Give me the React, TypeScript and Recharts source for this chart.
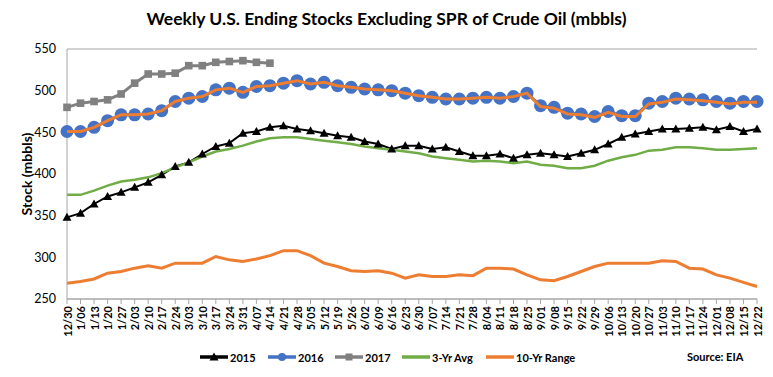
import React from 'react';
import { LineChart, Line, XAxis, YAxis, CartesianGrid } from 'recharts';

const weeks = ['12/30', '1/06', '1/13', '1/20', '1/27', '2/03', '2/10', '2/17', '2/24', '3/03', '3/10', '3/17', '3/24', '3/31', '4/07', '4/14', '4/21', '4/28', '5/05', '5/12', '5/19', '5/26', '6/02', '6/09', '6/16', '6/23', '6/30', '7/07', '7/14', '7/21', '7/28', '8/04', '8/11', '8/18', '8/25', '9/01', '9/08', '9/15', '9/22', '9/29', '10/06', '10/13', '10/20', '10/27', '11/03', '11/10', '11/17', '11/24', '12/01', '12/08', '12/15', '12/22'];

const stocks2015 = [348, 353, 364, 373, 378, 384, 390, 399, 409, 414, 424, 433, 437, 449, 451, 456, 458, 454, 452, 449, 446, 444, 439, 436, 430, 434, 434, 430, 432, 427, 422, 422, 424, 419, 423, 425, 423, 421, 425, 429, 436, 444, 448, 451, 454, 454, 455, 456, 453, 457, 451, 454];

const stocks2016 = [451, 451, 456, 464, 471, 471, 472, 476, 487, 491, 493, 501, 503, 498, 505, 506, 509, 512, 508, 510, 506, 504, 502, 501, 500, 497, 494, 492, 490, 490, 491, 492, 491, 493, 497, 482, 480, 473, 472, 469, 475, 470, 470, 485, 487, 491, 490, 489, 487, 485, 487, 487];

const stocks2017 = [480, 485, 487, 489, 496, 509, 520, 520, 521, 530, 530, 534, 535, 536, 534, 533];

const avg3Yr = [375, 375, 380, 386, 391, 393, 396, 401, 408, 414, 421, 427, 430, 434, 439, 443, 444, 444, 442, 440, 438, 436, 433, 431, 429, 427, 425, 421, 419, 417, 415, 416, 415, 413, 415, 411, 410, 407, 407, 410, 416, 420, 423, 428, 429, 432, 432, 431, 429, 429, 430, 431];

const range10Low = [269, 271, 274, 281, 283, 287, 290, 287, 293, 293, 293, 301, 297, 295, 298, 302, 308, 308, 302, 293, 289, 284, 283, 284, 281, 275, 279, 277, 277, 279, 278, 287, 287, 286, 279, 273, 272, 277, 283, 289, 293, 293, 293, 293, 296, 295, 287, 286, 279, 275, 270, 265];

const range10High = [451, 451, 456, 464, 471, 471, 472, 476, 487, 491, 493, 501, 503, 498, 505, 506, 509, 512, 508, 510, 506, 504, 502, 501, 500, 497, 494, 492, 490, 490, 491, 492, 491, 493, 497, 481, 479, 472, 471, 468, 474, 469, 469, 484, 486, 490, 489, 488, 486, 484, 486, 486];

const yTicks = [250, 300, 350, 400, 450, 500, 550];

const data = weeks.map((w, i) => ({
  week: w,
  s2015: stocks2015[i],
  s2016: stocks2016[i],
  s2017: i < stocks2017.length ? stocks2017[i] : null,
  avg: avg3Yr[i],
  low: range10Low[i],
  high: range10High[i],
}));

const FONT = 'Lato, "Open Sans", sans-serif';
const GRID = '#A6A6A6';

const TriangleDot = (props: any) => {
  const { cx, cy, index } = props;
  if (cx == null || cy == null) return <g key={index} />;
  return (
    <path key={index} d={`M${cx},${cy - 4.5} L${cx + 4.5},${cy + 3.5} L${cx - 4.5},${cy + 3.5} Z`} fill="#000" />
  );
};

const SquareDot = (props: any) => {
  const { cx, cy, index, value } = props;
  if (cx == null || cy == null || value == null) return <g key={index} />;
  return <rect key={index} x={cx - 3.8} y={cy - 3.8} width={7.6} height={7.6} fill="#808080" />;
};

const XTick = (props: any) => {
  const { x, y, payload } = props;
  return (
    <text
      x={x}
      y={y}
      transform={`rotate(-90 ${x} ${y})`}
      textAnchor="end"
      dominantBaseline="central"
      fontFamily={FONT}
      fontWeight={700}
      fontSize={11}
      fill="#000"
    >
      {payload.value}
    </text>
  );
};

const YLabel = (props: any) => {
  const { viewBox } = props;
  const cx = viewBox.x + 26;
  const cy = viewBox.y + viewBox.height / 2;
  return (
    <text
      x={cx}
      y={cy}
      transform={`rotate(-90 ${cx} ${cy})`}
      textAnchor="middle"
      dominantBaseline="central"
      fontFamily={FONT}
      fontWeight={700}
      fontSize={14}
      fill="#000"
    >
      Stock (mbbls)
    </text>
  );
};

const legendItems = [
  { name: '2015', color: '#000000', marker: 'triangle', left: 200 },
  { name: '2016', color: '#4472C4', marker: 'circle', left: 268 },
  { name: '2017', color: '#808080', marker: 'square', left: 335 },
  { name: '3-Yr Avg', color: '#70AD47', marker: 'none', left: 402 },
  { name: '10-Yr Range', color: '#ED7D31', marker: 'none', left: 486 },
];

const LegendMarker = ({ color, marker }: { color: string; marker: string }) => (
  <svg width={28} height={12} style={{ display: 'block' }}>
    <line x1={0} y1={6} x2={28} y2={6} stroke={color} strokeWidth={3.5} />
    {marker === 'triangle' && <path d="M14,1.5 L18.5,9.5 L9.5,9.5 Z" fill={color} />}
    {marker === 'circle' && <circle cx={14} cy={6} r={4} fill={color} />}
    {marker === 'square' && <rect x={10.5} y={2.5} width={7} height={7} fill={color} />}
  </svg>
);

export default function App() {
  const highProps: any = { zIndex: 1200 };
  return (
    <div style={{ position: 'relative', width: 773, height: 377, background: '#fff', fontFamily: FONT }}>
      <style>{`body{margin:0;}`}</style>
      <div
        style={{
          position: 'absolute',
          top: 8,
          left: 0,
          width: 773,
          textAlign: 'center',
          fontFamily: FONT,
          fontWeight: 700,
          fontSize: 17.5,
          lineHeight: '22px',
          color: '#000',
        }}
      >
        Weekly U.S. Ending Stocks Excluding SPR of Crude Oil (mbbls)
      </div>
      <LineChart
        width={773}
        height={377}
        data={data}
        margin={{ top: 49, right: 16, left: 0, bottom: 30 }}
      >
        <CartesianGrid vertical={false} stroke={GRID} strokeWidth={1} />
        <XAxis
          dataKey="week"
          interval={0}
          tick={<XTick />}
          tickSize={5}
          tickMargin={2}
          height={48}
          axisLine={{ stroke: GRID }}
          tickLine={{ stroke: GRID }}
        />
        <YAxis
          yAxisId="left"
          domain={[250, 550]}
          ticks={yTicks}
          type="number"
          width={67}
          tickSize={0}
          tickMargin={11}
          tickLine={false}
          axisLine={{ stroke: GRID }}
          tick={{ fontFamily: FONT, fontSize: 12.5, fill: '#000' }}
          label={<YLabel />}
          allowDataOverflow
        />
        <YAxis
          yAxisId="right"
          orientation="right"
          domain={[250, 550]}
          type="number"
          width={0}
          tick={false}
          tickLine={false}
          axisLine={{ stroke: GRID }}
        />
        <Line
          yAxisId="left"
          dataKey="s2015"
          stroke="#000"
          strokeWidth={2}
          dot={<TriangleDot />}
          isAnimationActive={false}
        />
        <Line
          yAxisId="left"
          dataKey="s2016"
          stroke="#4472C4"
          strokeWidth={3}
          dot={{ r: 6.5, fill: '#4472C4', stroke: '#4472C4', strokeWidth: 0 }}
          isAnimationActive={false}
        />
        <Line
          yAxisId="left"
          dataKey="s2017"
          stroke="#808080"
          strokeWidth={3}
          dot={<SquareDot />}
          connectNulls={false}
          isAnimationActive={false}
        />
        <Line
          yAxisId="left"
          dataKey="avg"
          stroke="#70AD47"
          strokeWidth={2.5}
          dot={false}
          isAnimationActive={false}
        />
        <Line
          yAxisId="left"
          dataKey="low"
          stroke="#ED7D31"
          strokeWidth={3}
          dot={false}
          isAnimationActive={false}
        />
        <Line
          yAxisId="left"
          dataKey="high"
          stroke="#ED7D31"
          strokeWidth={3}
          dot={false}
          isAnimationActive={false}
          {...highProps}
        />
      </LineChart>
      {legendItems.map((it) => (
        <div
          key={it.name}
          style={{
            position: 'absolute',
            left: it.left,
            top: 350,
            height: 14,
            display: 'flex',
            alignItems: 'center',
            fontFamily: FONT,
            fontWeight: 700,
            fontSize: 11,
            color: '#000',
            whiteSpace: 'nowrap',
          }}
        >
          <LegendMarker color={it.color} marker={it.marker} />
          <span style={{ marginLeft: 2 }}>{it.name}</span>
        </div>
      ))}
      <div
        style={{
          position: 'absolute',
          left: 687,
          top: 350,
          height: 14,
          lineHeight: '14px',
          fontFamily: FONT,
          fontWeight: 700,
          fontSize: 11,
          color: '#000',
          whiteSpace: 'nowrap',
        }}
      >
        Source: EIA
      </div>
    </div>
  );
}
